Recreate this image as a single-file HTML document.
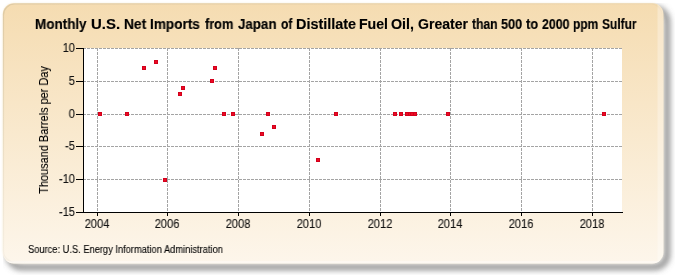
<!DOCTYPE html>
<html><head><meta charset="utf-8"><style>
html,body{margin:0;padding:0;background:#fff;width:675px;height:275px;overflow:hidden;position:relative;font-family:"Liberation Sans",sans-serif;}
svg{position:absolute;left:0;top:0;}
.t{position:absolute;white-space:nowrap;will-change:transform;}
.tw{position:absolute;top:16px;white-space:nowrap;font-weight:bold;font-size:14px;line-height:16px;color:#000;transform-origin:0 0;will-change:transform;-webkit-text-stroke:0.15px #000;}
.xl{position:absolute;top:217px;width:60px;text-align:center;font-size:12px;line-height:14px;color:#111;transform:scaleX(0.93);will-change:transform;-webkit-text-stroke:0.1px #000;}
.yl{position:absolute;left:15px;width:60px;text-align:right;font-size:12px;line-height:14px;color:#111;transform-origin:100% 50%;transform:scaleX(0.93);will-change:transform;-webkit-text-stroke:0.1px #000;}
.ytitle{position:absolute;left:0;top:0;width:0;height:0;}
.ytitle div{position:absolute;left:43.8px;top:129.7px;transform:translate(-50%,-50%) rotate(-90deg) scaleX(0.875);white-space:nowrap;font-size:12.5px;line-height:14px;color:#000;will-change:transform;-webkit-text-stroke:0.1px #000;}
.src{left:28.4px;top:243.5px;font-size:10px;line-height:12px;color:#000;transform-origin:0 0;transform:scaleX(0.93);-webkit-text-stroke:0.1px #000;}
</style></head><body>
<svg width="675" height="275">
<defs>
<linearGradient id="bg" x1="0" y1="0" x2="0" y2="1"><stop offset="0" stop-color="#f5dcb1"/><stop offset="1" stop-color="#fdf6eb"/></linearGradient>
<filter id="blur" x="-10%" y="-10%" width="120%" height="120%"><feGaussianBlur stdDeviation="3"/></filter>
<clipPath id="shclip"><rect x="3" y="3" width="672" height="272"/></clipPath><linearGradient id="edge" x1="0" y1="0" x2="1" y2="1"><stop offset="0" stop-color="#787864" stop-opacity="0.18"/><stop offset="0.5" stop-color="#787864" stop-opacity="0.05"/><stop offset="0.55" stop-color="#fff" stop-opacity="0.0"/><stop offset="1" stop-color="#fff" stop-opacity="0.0"/></linearGradient><clipPath id="frclip"><rect x="2.8" y="3.2" width="660.6" height="260.2" rx="11" ry="11"/></clipPath><filter id="soft" x="-5%" y="-5%" width="110%" height="110%"><feGaussianBlur stdDeviation="0.9"/></filter>
</defs>
<g clip-path="url(#shclip)"><rect x="9" y="9" width="658" height="258" rx="12" ry="12" fill="none" stroke="#666" stroke-width="4.5" filter="url(#blur)"/></g>
<rect x="2.6" y="3" width="660.8" height="260.4" rx="12.5" ry="12.5" fill="#f3ead0" opacity="0.6" filter="url(#soft)"/>
<rect x="2.8" y="3.2" width="660.6" height="260.2" rx="11" ry="11" fill="url(#bg)"/>
<g clip-path="url(#frclip)">
<rect x="657.5" y="0" width="6" height="275" fill="#fff" opacity="0.3"/>
<rect x="0" y="261" width="675" height="3" fill="#fff" opacity="0.4"/>
</g>
<rect x="3.5" y="4" width="658.5" height="258" rx="11" ry="11" fill="none" stroke="url(#edge)" stroke-width="1.2"/>
<g shape-rendering="crispEdges">
<rect x="84" y="48" width="538" height="164" fill="#fff"/><line x1="97.5" y1="48" x2="97.5" y2="212" stroke="#a4a4a4" stroke-width="1" stroke-dasharray="3,1"/><line x1="167.5" y1="48" x2="167.5" y2="212" stroke="#a4a4a4" stroke-width="1" stroke-dasharray="3,1"/><line x1="238.5" y1="48" x2="238.5" y2="212" stroke="#a4a4a4" stroke-width="1" stroke-dasharray="3,1"/><line x1="309.5" y1="48" x2="309.5" y2="212" stroke="#a4a4a4" stroke-width="1" stroke-dasharray="3,1"/><line x1="380.5" y1="48" x2="380.5" y2="212" stroke="#a4a4a4" stroke-width="1" stroke-dasharray="3,1"/><line x1="450.5" y1="48" x2="450.5" y2="212" stroke="#a4a4a4" stroke-width="1" stroke-dasharray="3,1"/><line x1="521.5" y1="48" x2="521.5" y2="212" stroke="#a4a4a4" stroke-width="1" stroke-dasharray="3,1"/><line x1="592.5" y1="48" x2="592.5" y2="212" stroke="#a4a4a4" stroke-width="1" stroke-dasharray="3,1"/><line x1="83" y1="48.5" x2="622" y2="48.5" stroke="#a4a4a4" stroke-width="1" stroke-dasharray="3,1"/><line x1="83" y1="81.5" x2="622" y2="81.5" stroke="#a4a4a4" stroke-width="1" stroke-dasharray="3,1"/><line x1="83" y1="114.5" x2="622" y2="114.5" stroke="#a4a4a4" stroke-width="1" stroke-dasharray="3,1"/><line x1="83" y1="146.5" x2="622" y2="146.5" stroke="#a4a4a4" stroke-width="1" stroke-dasharray="3,1"/><line x1="83" y1="179.5" x2="622" y2="179.5" stroke="#a4a4a4" stroke-width="1" stroke-dasharray="3,1"/><line x1="83.5" y1="48" x2="83.5" y2="213" stroke="#000" stroke-width="1"/><line x1="83" y1="212.5" x2="623" y2="212.5" stroke="#000" stroke-width="1"/><line x1="76" y1="48.5" x2="84" y2="48.5" stroke="#000" stroke-width="1"/><line x1="76" y1="81.5" x2="84" y2="81.5" stroke="#000" stroke-width="1"/><line x1="76" y1="114.5" x2="84" y2="114.5" stroke="#000" stroke-width="1"/><line x1="76" y1="146.5" x2="84" y2="146.5" stroke="#000" stroke-width="1"/><line x1="76" y1="179.5" x2="84" y2="179.5" stroke="#000" stroke-width="1"/><line x1="76" y1="212.5" x2="84" y2="212.5" stroke="#000" stroke-width="1"/><line x1="97.5" y1="212" x2="97.5" y2="216" stroke="#000" stroke-width="1"/><line x1="167.5" y1="212" x2="167.5" y2="216" stroke="#000" stroke-width="1"/><line x1="238.5" y1="212" x2="238.5" y2="216" stroke="#000" stroke-width="1"/><line x1="309.5" y1="212" x2="309.5" y2="216" stroke="#000" stroke-width="1"/><line x1="380.5" y1="212" x2="380.5" y2="216" stroke="#000" stroke-width="1"/><line x1="450.5" y1="212" x2="450.5" y2="216" stroke="#000" stroke-width="1"/><line x1="521.5" y1="212" x2="521.5" y2="216" stroke="#000" stroke-width="1"/><line x1="592.5" y1="212" x2="592.5" y2="216" stroke="#000" stroke-width="1"/><rect x="98" y="112" width="4" height="4" fill="#d3001c"/><rect x="99" y="113" width="2" height="2" fill="#ec0a22"/><rect x="125" y="112" width="4" height="4" fill="#d3001c"/><rect x="126" y="113" width="2" height="2" fill="#ec0a22"/><rect x="142" y="66" width="4" height="4" fill="#d3001c"/><rect x="143" y="67" width="2" height="2" fill="#ec0a22"/><rect x="154" y="60" width="4" height="4" fill="#d3001c"/><rect x="155" y="61" width="2" height="2" fill="#ec0a22"/><rect x="163" y="178" width="4" height="4" fill="#d3001c"/><rect x="164" y="179" width="2" height="2" fill="#ec0a22"/><rect x="178" y="92" width="4" height="4" fill="#d3001c"/><rect x="179" y="93" width="2" height="2" fill="#ec0a22"/><rect x="181" y="86" width="4" height="4" fill="#d3001c"/><rect x="182" y="87" width="2" height="2" fill="#ec0a22"/><rect x="210" y="79" width="4" height="4" fill="#d3001c"/><rect x="211" y="80" width="2" height="2" fill="#ec0a22"/><rect x="213" y="66" width="4" height="4" fill="#d3001c"/><rect x="214" y="67" width="2" height="2" fill="#ec0a22"/><rect x="222" y="112" width="4" height="4" fill="#d3001c"/><rect x="223" y="113" width="2" height="2" fill="#ec0a22"/><rect x="231" y="112" width="4" height="4" fill="#d3001c"/><rect x="232" y="113" width="2" height="2" fill="#ec0a22"/><rect x="260" y="132" width="4" height="4" fill="#d3001c"/><rect x="261" y="133" width="2" height="2" fill="#ec0a22"/><rect x="266" y="112" width="4" height="4" fill="#d3001c"/><rect x="267" y="113" width="2" height="2" fill="#ec0a22"/><rect x="272" y="125" width="4" height="4" fill="#d3001c"/><rect x="273" y="126" width="2" height="2" fill="#ec0a22"/><rect x="316" y="158" width="4" height="4" fill="#d3001c"/><rect x="317" y="159" width="2" height="2" fill="#ec0a22"/><rect x="334" y="112" width="4" height="4" fill="#d3001c"/><rect x="335" y="113" width="2" height="2" fill="#ec0a22"/><rect x="393" y="112" width="4" height="4" fill="#d3001c"/><rect x="394" y="113" width="2" height="2" fill="#ec0a22"/><rect x="399" y="112" width="4" height="4" fill="#d3001c"/><rect x="400" y="113" width="2" height="2" fill="#ec0a22"/><rect x="405" y="112" width="4" height="4" fill="#d3001c"/><rect x="406" y="113" width="2" height="2" fill="#ec0a22"/><rect x="408" y="112" width="4" height="4" fill="#d3001c"/><rect x="409" y="113" width="2" height="2" fill="#ec0a22"/><rect x="410" y="112" width="4" height="4" fill="#d3001c"/><rect x="411" y="113" width="2" height="2" fill="#ec0a22"/><rect x="413" y="112" width="4" height="4" fill="#d3001c"/><rect x="414" y="113" width="2" height="2" fill="#ec0a22"/><rect x="446" y="112" width="4" height="4" fill="#d3001c"/><rect x="447" y="113" width="2" height="2" fill="#ec0a22"/><rect x="602" y="112" width="4" height="4" fill="#d3001c"/><rect x="603" y="113" width="2" height="2" fill="#ec0a22"/>
</g>
</svg>
<div class="tw" style="left:34.94px;transform:scaleX(0.9623)">Monthly</div><div class="tw" style="left:90.93px;transform:scaleX(1.0680)">U.S.</div><div class="tw" style="left:123.92px;transform:scaleX(0.9818)">Net</div><div class="tw" style="left:150.13px;transform:scaleX(0.9700)">Imports</div><div class="tw" style="left:204.80px;transform:scaleX(0.9097)">from</div><div class="tw" style="left:238.00px;transform:scaleX(0.9525)">Japan</div><div class="tw" style="left:281.00px;transform:scaleX(0.8615)">of</div><div class="tw" style="left:296.17px;transform:scaleX(1.0298)">Distillate</div><div class="tw" style="left:358.79px;transform:scaleX(1.0074)">Fuel</div><div class="tw" style="left:390.88px;transform:scaleX(1.0190)">Oil,</div><div class="tw" style="left:418.30px;transform:scaleX(1.0041)">Greater</div><div class="tw" style="left:471.50px;transform:scaleX(0.8655)">than</div><div class="tw" style="left:500.79px;transform:scaleX(0.9091)">500</div><div class="tw" style="left:526.10px;transform:scaleX(0.9154)">to</div><div class="tw" style="left:541.90px;transform:scaleX(0.8839)">2000</div><div class="tw" style="left:573.14px;transform:scaleX(0.8571)">ppm</div><div class="tw" style="left:601.85px;transform:scaleX(0.8538)">Sulfur</div>
<div class="xl" style="left:67.0px">2004</div><div class="xl" style="left:137.0px">2006</div><div class="xl" style="left:208.0px">2008</div><div class="xl" style="left:279.0px">2010</div><div class="xl" style="left:350.0px">2012</div><div class="xl" style="left:420.0px">2014</div><div class="xl" style="left:491.0px">2016</div><div class="xl" style="left:562.0px">2018</div><div class="yl" style="top:40.5px">10</div><div class="yl" style="top:73.5px">5</div><div class="yl" style="top:106.5px">0</div><div class="yl" style="top:138.5px">-5</div><div class="yl" style="top:171.5px">-10</div><div class="yl" style="top:204.5px">-15</div>
<div class="ytitle"><div>Thousand Barrels per Day</div></div>
<div class="t src">Source: U.S. Energy Information Administration</div>
</body></html>
